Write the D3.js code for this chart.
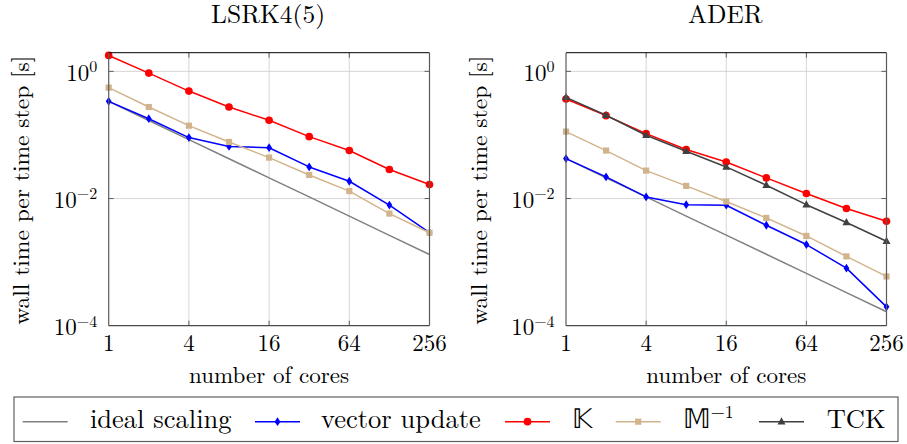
<!DOCTYPE html>
<html><head><meta charset="utf-8">
<script src="https://cdn.jsdelivr.net/npm/d3@7"></script>
<style>
html,body{margin:0;padding:0;background:#fff;}
svg{display:block;}
</style></head>
<body>
<svg id="chart" width="907" height="444" font-family="'Latin Modern Roman','CMU Serif','Liberation Serif',serif"></svg>
<script>
// ---- data ----
const cores = [1, 2, 4, 8, 16, 32, 64, 128, 256];
const xTickValues = [1, 4, 16, 64, 256];
const yTickExponents = [0, -2, -4];
const panelTitles = ["LSRK4(5)", "ADER"];
const seriesNames = ["ideal scaling", "vector update", "\u{1D542}", "\u{1D544}", "TCK"];

const lsrkIdeal  = [0.338, 0.169, 0.0845, 0.0423, 0.0211, 0.0106, 0.00528, 0.00264, 0.00132];
const lsrkVector = [0.338, 0.18, 0.091, 0.066, 0.063, 0.0314, 0.0187, 0.0079, 0.0029];
const lsrkK      = [1.78, 0.94, 0.49, 0.275, 0.17, 0.094, 0.057, 0.0286, 0.0166];
const lsrkMinv   = [0.555, 0.275, 0.14, 0.0775, 0.044, 0.0235, 0.0131, 0.0058, 0.0029];

const aderIdeal  = [0.0425, 0.02125, 0.0106, 0.0053, 0.00266, 0.00133, 0.000664, 0.000332, 0.000166];
const aderVector = [0.0425, 0.0219, 0.0106, 0.0080, 0.00785, 0.0038, 0.00189, 0.000804, 0.000198];
const aderK      = [0.367, 0.201, 0.105, 0.0589, 0.0376, 0.0211, 0.012, 0.00697, 0.0044];
const aderMinv   = [0.113, 0.0568, 0.0275, 0.0158, 0.00897, 0.00496, 0.00258, 0.00123, 0.000595];
const aderTCK    = [0.39, 0.204, 0.099, 0.0554, 0.0314, 0.0162, 0.0080, 0.0042, 0.00213];

// ---- styles ----
const styles = {
  ideal:  {color: "#808080", marker: null},
  vector: {color: "#0000ff", marker: "diamond"},
  K:      {color: "#ff0000", marker: "circle"},
  Minv:   {color: "#d2b48c", marker: "square"},
  TCK:    {color: "#404040", marker: "triangle"}
};

const panels = [
  {title: panelTitles[0], x0: 108.7, x1: 429.5, series: [
    {key: "ideal", values: lsrkIdeal}, {key: "vector", values: lsrkVector},
    {key: "K", values: lsrkK}, {key: "Minv", values: lsrkMinv}]},
  {title: panelTitles[1], x0: 566, x1: 886.5, series: [
    {key: "ideal", values: aderIdeal}, {key: "vector", values: aderVector},
    {key: "K", values: aderK}, {key: "Minv", values: aderMinv}, {key: "TCK", values: aderTCK}]}
];

const svg = d3.select("#chart");
const yTop = 52.7, yBot = 325.7;
const FS = 23;

function markerPath(type) {
  switch (type) {
    case "diamond": return "M0,-4.4L2.9,0L0,4.4L-2.9,0Z";
    case "circle": return d3.symbol(d3.symbolCircle, 46)();
    case "square": return "M-3.1,-3.1H3.1V3.1H-3.1Z";
    case "triangle": return "M0,-4.4L4,2.7L-4,2.7Z";
  }
  return null;
}

panels.forEach(p => {
  const x = d3.scaleLog().base(2).domain([1, 256]).range([p.x0, p.x1]);
  const y = d3.scaleLog().domain([1e-4, 1.966]).range([yBot, yTop]);
  const g = svg.append("g");

  // grid
  g.selectAll(".vg").data(xTickValues.slice(1, -1)).enter().append("line")
    .attr("x1", d => x(d)).attr("x2", d => x(d)).attr("y1", yTop).attr("y2", yBot)
    .attr("stroke", "#cccccc").attr("stroke-width", 0.8);
  g.selectAll(".hg").data(yTickExponents.filter(e => e > -4)).enter().append("line")
    .attr("y1", d => y(Math.pow(10, d))).attr("y2", d => y(Math.pow(10, d)))
    .attr("x1", p.x0).attr("x2", p.x1)
    .attr("stroke", "#cccccc").attr("stroke-width", 0.8);

  // ticks (inside, on all sides)
  const tk = 5;
  xTickValues.slice(1, -1).forEach(v => {
    g.append("line").attr("x1", x(v)).attr("x2", x(v)).attr("y1", yBot).attr("y2", yBot - tk).attr("stroke", "#505050").attr("stroke-width", 0.9);
    g.append("line").attr("x1", x(v)).attr("x2", x(v)).attr("y1", yTop).attr("y2", yTop + tk).attr("stroke", "#505050").attr("stroke-width", 0.9);
  });
  yTickExponents.filter(e => e > -4).forEach(e => {
    const yy = y(Math.pow(10, e));
    g.append("line").attr("x1", p.x0).attr("x2", p.x0 + tk).attr("y1", yy).attr("y2", yy).attr("stroke", "#505050").attr("stroke-width", 0.9);
    g.append("line").attr("x1", p.x1).attr("x2", p.x1 - tk).attr("y1", yy).attr("y2", yy).attr("stroke", "#505050").attr("stroke-width", 0.9);
  });

  // series
  const line = d3.line().x((d, i) => x(cores[i])).y(d => y(d));
  p.series.forEach(s => {
    const st = styles[s.key];
    g.append("path").attr("d", line(s.values)).attr("fill", "none")
      .attr("stroke", st.color).attr("stroke-width", 1.5).attr("stroke-linejoin", "round");
    if (st.marker) {
      g.selectAll(null).data(s.values).enter().append("path")
        .attr("d", markerPath(st.marker))
        .attr("transform", (d, i) => `translate(${x(cores[i])},${y(d)})`)
        .attr("fill", st.color);
    }
  });

  // frame
  g.append("line").attr("x1", p.x0).attr("x2", p.x1).attr("y1", yTop).attr("y2", yTop).attr("stroke", "#000").attr("stroke-width", 1);
  g.append("line").attr("x1", p.x0).attr("x2", p.x1).attr("y1", yBot).attr("y2", yBot).attr("stroke", "#4a4a4a").attr("stroke-width", 1.2);
  g.append("line").attr("x1", p.x0).attr("x2", p.x0).attr("y1", yTop).attr("y2", yBot).attr("stroke", "#5a5a5a").attr("stroke-width", 1.2);
  g.append("line").attr("x1", p.x1).attr("x2", p.x1).attr("y1", yTop).attr("y2", yBot).attr("stroke", "#5a5a5a").attr("stroke-width", 1.2);

  // x tick labels
  g.selectAll(".xl").data(xTickValues).enter().append("text")
    .attr("x", d => x(d)).attr("y", 351).attr("text-anchor", "middle")
    .attr("font-size", FS).text(d => d);

  // y tick labels
  yTickExponents.forEach(e => {
    const t = g.append("text").attr("x", p.x0 - 11.4).attr("y", y(Math.pow(10, e)) + 9.3)
      .attr("text-anchor", "end").attr("font-size", FS);
    t.append("tspan").text("10");
    t.append("tspan").attr("dy", -8.5).attr("font-size", 16).text(e === 0 ? "0" : "\u2212" + Math.abs(e));
  });

  // title
  g.append("text").attr("x", (p.x0 + p.x1) / 2 - 1).attr("y", 22.5).attr("text-anchor", "middle")
    .attr("font-size", 25.5).text(p.title);

  // x label
  g.append("text").attr("x", (p.x0 + p.x1) / 2).attr("y", 383).attr("text-anchor", "middle")
    .attr("font-size", FS).text("number of cores");

  // y label
  g.append("text").attr("transform", `translate(${p.x0 - 79.5},${(yTop + yBot) / 2 + 1}) rotate(-90)`)
    .attr("text-anchor", "middle").attr("font-size", 23.5).text("wall time per time step [s]");
});

// legend
const lg = svg.append("g");
lg.append("rect").attr("x", 14).attr("y", 397).attr("width", 884).attr("height", 44.5)
  .attr("fill", "#fff").attr("stroke", "#606060").attr("stroke-width", 1.2);
const legendKeys = ["ideal", "vector", "K", "Minv", "TCK"];
const legendLineX = [22.7, 255, 505, 615.7, 759];
const legendTextX = [90, 321, 572, 682.7, 826.7];
const ly = 421.7;
legendKeys.forEach((k, i) => {
  const st = styles[k];
  lg.append("line").attr("x1", legendLineX[i]).attr("x2", legendLineX[i] + 45)
    .attr("y1", ly).attr("y2", ly).attr("stroke", st.color).attr("stroke-width", 1.5);
  if (st.marker) {
    lg.append("path").attr("d", markerPath(st.marker))
      .attr("transform", `translate(${legendLineX[i] + 22.5},${ly})`).attr("fill", st.color);
  }
  const t = lg.append("text").attr("x", legendTextX[i]).attr("y", 427.5).attr("font-size", 26.5);
  t.append("tspan").text(seriesNames[i]);
  if (k === "Minv") t.append("tspan").attr("dy", -10).attr("font-size", 18).text("\u22121");
});
</script>
</body></html>
